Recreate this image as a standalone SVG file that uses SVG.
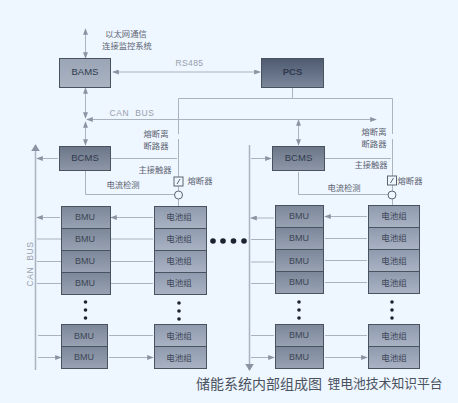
<svg xmlns="http://www.w3.org/2000/svg" width="458" height="403" viewBox="0 0 458 403">
<defs>
<linearGradient id="gA" x1="0" y1="0" x2="0" y2="1"><stop offset="0" stop-color="#9aa5b5"/><stop offset="1" stop-color="#a9b3c2"/></linearGradient>
<linearGradient id="gD" x1="0" y1="0" x2="0" y2="1"><stop offset="0" stop-color="#4e5a70"/><stop offset="1" stop-color="#7b879b"/></linearGradient>
<linearGradient id="gB" x1="0" y1="0" x2="0" y2="1"><stop offset="0" stop-color="#6b7688"/><stop offset="1" stop-color="#8d97a8"/></linearGradient>
<linearGradient id="gM" x1="0" y1="0" x2="0" y2="1"><stop offset="0" stop-color="#7c8799"/><stop offset="1" stop-color="#98a2b3"/></linearGradient>
<linearGradient id="gC" x1="0" y1="0" x2="0" y2="1"><stop offset="0" stop-color="#8f9aae"/><stop offset="1" stop-color="#a9b3c4"/></linearGradient>
<marker id="a" viewBox="0 0 8 6" refX="7" refY="3" markerWidth="7" markerHeight="5" orient="auto-start-reverse" markerUnits="userSpaceOnUse"><path d="M0 0L8 3L0 6z" fill="#8b94a3"/></marker>
<marker id="b" viewBox="0 0 8 10" refX="7" refY="5" markerWidth="7" markerHeight="9" orient="auto-start-reverse" markerUnits="userSpaceOnUse"><path d="M0 0L8 5L0 10z" fill="#8b94a3"/></marker>
</defs>
<style>
text{font-family:"Noto Sans CJK SC","Liberation Sans",sans-serif;text-anchor:middle;fill:#4a5260}
.l{font-size:8.300px;fill:#5c6471}
.n{font-size:9.500px;fill:#2f3a4d;font-family:"Liberation Sans","Noto Sans CJK SC",sans-serif}
.e{font-size:8.500px;fill:#98a0ac;font-family:"Liberation Sans",sans-serif}
.m{font-size:8.500px;fill:#3d4656}
.b{font-size:9px;fill:#3d4656;font-family:"Liberation Sans",sans-serif}
.c{fill:none;stroke:#aab3c0;stroke-width:1}
.g{fill:none;stroke:#aab3c0;stroke-width:1;marker-start:url(#a);marker-end:url(#a)}
.s{stroke:#49525f;stroke-width:1}
</style>
<rect width="458" height="403" fill="#eef6ff"/>
<g id="connectors">
<path class="g" d="M85.500 29V58"/>
<path class="g" d="M113 72H260"/>
<path class="g" d="M85.500 88V118"/>
<path class="g" d="M85.500 122V145"/>
<path class="g" d="M87 119.500H376"/>
<path class="g" d="M298.500 120V145"/>
<path class="c" d="M292.500 88V98.500M178.500 98.500H392.500M178.500 98.500V134M178.500 139V156M392.500 98.500V134M392.500 139V156"/>
<path class="c" d="M111 158.500H177M325 158.500H391"/>
<path class="c" d="M178.500 156V177M392.500 156V176"/>
<path class="c" d="M178.500 186V191M392.500 185V191M178.500 199V206M392.500 199V206"/>
<path class="c" d="M85.500 171V194.500H174M298.500 172V194.500H388"/>
<path d="M35.500 145V370M249.500 145V370" stroke="#aab3c0" stroke-width="1.500" fill="none" marker-start="url(#b)" marker-end="url(#b)"/>
<path class="g" d="M37 158.500H58M251 158.500H271"/>
<path class="g" d="M37 217.500H60M37 239H61M37 261.500H61M37 283.500H61M38 335.500H61M38 357.500H61"/>
<path class="g" d="M111 217.500H153M111 239H153M111 261.500H153M111 283.500H153M109 335.500H153M109 357.500H153"/>
<path class="g" d="M251 218H274M251 239.500H274M251 262H274M251 283.500H274M251 335.500H274M251 357.500H274"/>
<path class="g" d="M325 216.500H367M325 238.500H367M325 260.500H367M325 282.500H367M325 335.500H367M325 357.500H367"/>
</g>
<g id="bams"><rect x="59.500" y="58.500" width="51" height="29" fill="url(#gA)" class="s"/><text class="n" x="85" y="75">BAMS</text></g>
<g id="pcs"><rect x="261.500" y="58.500" width="62" height="29" fill="url(#gD)" class="s"/><text class="n" x="292.500" y="75" font-weight="700">PCS</text></g>
<g id="bcms-1"><rect x="59.500" y="146.500" width="51" height="24" fill="url(#gB)" class="s"/><text class="n" x="85" y="161">BCMS</text></g>
<g id="bcms-2"><rect x="272.500" y="146.500" width="52" height="24" fill="url(#gB)" class="s"/><text class="n" x="298.500" y="161">BCMS</text></g>
<g id="fuse-1"><rect x="174" y="177" width="9" height="9" fill="#eef6ff" stroke="#5c6471"/><path d="M177 184L180 179" stroke="#5c6471" fill="none"/><circle cx="178.500" cy="195" r="4" fill="#eef6ff" stroke="#5c6471"/></g>
<g id="fuse-2"><rect x="387.500" y="176" width="9" height="9" fill="#eef6ff" stroke="#5c6471"/><path d="M390.500 183L393.500 178" stroke="#5c6471" fill="none"/><circle cx="392" cy="195" r="4" fill="#eef6ff" stroke="#5c6471"/></g>
<g id="bmu-left">
<rect x="61.500" y="206.500" width="49" height="22" fill="url(#gM)" class="s"/><text class="b" x="85" y="220">BMU</text>
<rect x="61.500" y="228.500" width="49" height="22" fill="url(#gM)" class="s"/><text class="b" x="85" y="242">BMU</text>
<rect x="61.500" y="250.500" width="49" height="22" fill="url(#gM)" class="s"/><text class="b" x="85" y="264">BMU</text>
<rect x="61.500" y="272.500" width="49" height="22" fill="url(#gM)" class="s"/><text class="b" x="85" y="286">BMU</text>
<rect x="61.500" y="324.500" width="46" height="22" fill="url(#gM)" class="s"/><text class="b" x="84" y="339">BMU</text>
<rect x="61.500" y="346.500" width="46" height="22" fill="url(#gM)" class="s"/><text class="b" x="84" y="360">BMU</text>
</g>
<g id="cells-left">
<rect x="154.500" y="206.500" width="52" height="22" fill="url(#gC)" class="s"/><text class="m" x="179" y="220">电池组</text>
<rect x="154.500" y="228.500" width="52" height="22" fill="url(#gC)" class="s"/><text class="m" x="179" y="242">电池组</text>
<rect x="154.500" y="250.500" width="52" height="22" fill="url(#gC)" class="s"/><text class="m" x="179" y="264">电池组</text>
<rect x="154.500" y="272.500" width="52" height="22" fill="url(#gC)" class="s"/><text class="m" x="179" y="286">电池组</text>
<rect x="154.500" y="324.500" width="52" height="22" fill="url(#gC)" class="s"/><text class="m" x="179" y="339">电池组</text>
<rect x="154.500" y="346.500" width="52" height="22" fill="url(#gC)" class="s"/><text class="m" x="179" y="361">电池组</text>
</g>
<g id="bmu-right">
<rect x="275.500" y="205.500" width="48" height="22" fill="url(#gM)" class="s"/><text class="b" x="299" y="219">BMU</text>
<rect x="275.500" y="227.500" width="48" height="22" fill="url(#gM)" class="s"/><text class="b" x="299" y="241">BMU</text>
<rect x="275.500" y="249.500" width="48" height="22" fill="url(#gM)" class="s"/><text class="b" x="299" y="264">BMU</text>
<rect x="275.500" y="271.500" width="48" height="22" fill="url(#gM)" class="s"/><text class="b" x="299" y="285">BMU</text>
<rect x="275.500" y="324.500" width="48" height="22" fill="url(#gM)" class="s"/><text class="b" x="299" y="338">BMU</text>
<rect x="275.500" y="346.500" width="48" height="22" fill="url(#gM)" class="s"/><text class="b" x="299" y="360">BMU</text>
</g>
<g id="cells-right">
<rect x="368.500" y="205.500" width="51" height="22" fill="url(#gC)" class="s"/><text class="m" x="394" y="219">电池组</text>
<rect x="368.500" y="227.500" width="51" height="22" fill="url(#gC)" class="s"/><text class="m" x="394" y="241">电池组</text>
<rect x="368.500" y="249.500" width="51" height="22" fill="url(#gC)" class="s"/><text class="m" x="394" y="264">电池组</text>
<rect x="368.500" y="271.500" width="51" height="22" fill="url(#gC)" class="s"/><text class="m" x="394" y="286">电池组</text>
<rect x="368.500" y="324.500" width="51" height="22" fill="url(#gC)" class="s"/><text class="m" x="394" y="339">电池组</text>
<rect x="368.500" y="346.500" width="51" height="22" fill="url(#gC)" class="s"/><text class="m" x="394" y="361">电池组</text>
</g>
<g id="dots" fill="#1d2230">
<circle cx="213" cy="241" r="2.800"/><circle cx="223" cy="241" r="2.800"/><circle cx="233.500" cy="241" r="2.800"/><circle cx="244" cy="241" r="2.800"/>
<circle cx="85.500" cy="302" r="1.800"/><circle cx="85.500" cy="310" r="1.800"/><circle cx="85.500" cy="318" r="1.800"/>
<circle cx="179" cy="303" r="1.800"/><circle cx="179" cy="311" r="1.800"/><circle cx="179" cy="319" r="1.800"/>
<circle cx="299" cy="302" r="1.800"/><circle cx="299" cy="310" r="1.800"/><circle cx="299" cy="318" r="1.800"/>
<circle cx="392" cy="302" r="1.800"/><circle cx="392" cy="310" r="1.800"/><circle cx="392" cy="318" r="1.800"/>
</g>
<g id="labels">
<text class="l" x="126" y="37">以太网通信</text>
<text class="l" x="127" y="49">连接监控系统</text>
<text class="e" x="189.500" y="66" letter-spacing=".4">RS485</text>
<text class="e" x="132" y="116" letter-spacing=".6">CAN&#160;&#160;BUS</text>
<text class="l" x="156" y="136.500">熔断离</text>
<text class="l" x="156" y="148.500">断路器</text>
<text class="l" x="155" y="173">主接触器</text>
<text class="l" x="200" y="184">熔断器</text>
<text class="l" x="123" y="188">电流检测</text>
<text class="l" x="374" y="135">熔断离</text>
<text class="l" x="374" y="147">断路器</text>
<text class="l" x="371" y="168">主接触器</text>
<text class="l" x="410" y="184">熔断器</text>
<text class="l" x="344" y="191">电流检测</text>
<text class="e" transform="translate(33 264) rotate(-90)" letter-spacing=".6">CAN&#160;&#160;BUS</text>
<text x="259" y="389" font-size="14" fill="#2b2f36">储能系统内部组成图</text>
<text x="385" y="388" font-size="12.800" fill="#a6adb5">锂电池技术知识平台</text>
</g>
</svg>
